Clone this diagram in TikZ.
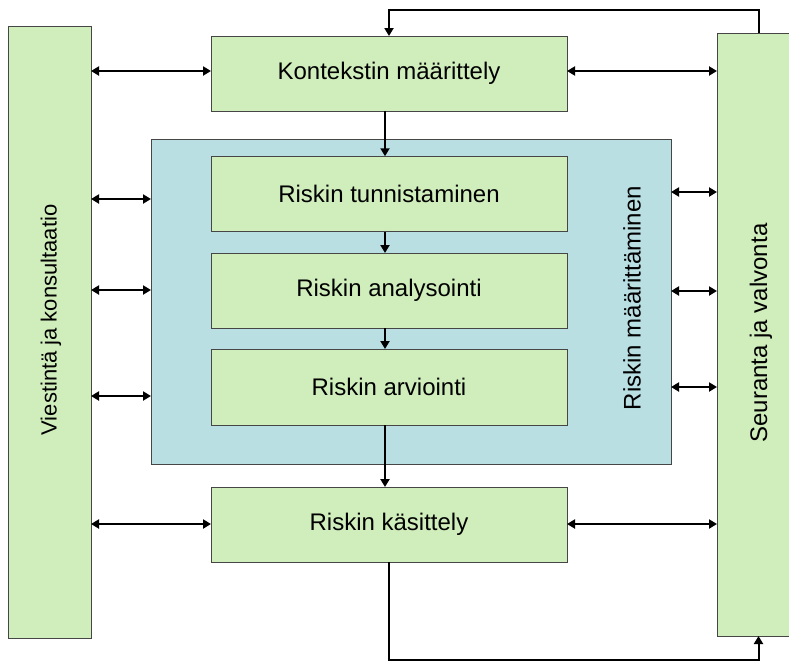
\documentclass[tikz,border=0pt]{standalone}
\usepackage{fontspec}
\setmainfont{Liberation Sans}
\usetikzlibrary{arrows.meta}
\definecolor{boxgreen}{RGB}{208,238,188}
\definecolor{boxblue}{RGB}{185,223,227}
\definecolor{edgegray}{RGB}{70,70,70}
\tikzset{
  greenbox/.style={draw=edgegray, line width=0.9pt, fill=boxgreen, inner sep=0pt, outer sep=0pt},
  bluebox/.style={draw=edgegray, line width=0.9pt, fill=boxblue, inner sep=0pt, outer sep=0pt},
  lbl/.style={font=\fontsize{24}{28}\selectfont, inner sep=0pt},
  conn/.style={line width=2pt, draw=black},
  tip/.style={-{Triangle[length=8pt,width=9pt]}},
  dtip/.style={{Triangle[length=8pt,width=9pt]}-{Triangle[length=8pt,width=9pt]}}
}
\begin{document}
\begin{tikzpicture}[x=1pt,y=-1pt]
\clip (0,0) rectangle (789,662);
\fill[white] (0,0) rectangle (789,662);
% side bars
\node[greenbox, minimum width=83, minimum height=612] (lb) at (49.5,332) {};
\node[greenbox, minimum width=83, minimum height=603] (rb) at (758.5,334.5) {};
\node[lbl, font=\fontsize{22}{26}\selectfont, rotate=90] (lbt) at (51,320) {Viestintä ja konsultaatio};
\node[lbl, rotate=90] (rbt) at (761,333) {Seuranta ja valvonta};
% blue assessment box
\node[bluebox, minimum width=520, minimum height=325] (blue) at (411,301.5) {};
\node[lbl, rotate=90] (bluet) at (632,298) {Riskin määrittäminen};
% process boxes
\node[greenbox, minimum width=356, minimum height=75] (ctx) at (389,73.5) {};
\node[lbl] (ctxt) at (ctx) {Kontekstin määrittely};
\node[greenbox, minimum width=356, minimum height=75.5] (tun) at (389,194) {};
\node[lbl] (tunt) at (tun) {Riskin tunnistaminen};
\node[greenbox, minimum width=356, minimum height=75] (ana) at (389,290.5) {};
\node[lbl] (anat) at (ana) {Riskin analysointi};
\node[greenbox, minimum width=356, minimum height=76] (arv) at (389,387) {};
\node[lbl] (arvt) at (arv) {Riskin arviointi};
\node[greenbox, minimum width=356, minimum height=75] (kas) at (389,524.5) {};
\node[lbl] (kast) at (kas) {Riskin käsittely};
% left double arrows
\draw[conn, dtip] (lb.east |- 0,71) -- (ctx.west |- 0,71);
\draw[conn, dtip] (lb.east |- 0,199) -- (blue.west |- 0,199);
\draw[conn, dtip] (lb.east |- 0,290) -- (blue.west |- 0,290);
\draw[conn, dtip] (lb.east |- 0,396) -- (blue.west |- 0,396);
\draw[conn, dtip] (lb.east |- 0,524) -- (kas.west |- 0,524);
% right double arrows
\draw[conn, dtip] (ctx.east |- 0,71) -- (rb.west |- 0,71);
\draw[conn, dtip] (blue.east |- 0,192) -- (rb.west |- 0,192);
\draw[conn, dtip] (blue.east |- 0,291) -- (rb.west |- 0,291);
\draw[conn, dtip] (blue.east |- 0,387) -- (rb.west |- 0,387);
\draw[conn, dtip] (kas.east |- 0,524) -- (rb.west |- 0,524);
% vertical flow arrows
\draw[conn, tip] (ctx.south -| 385,0) -- (tun.north -| 385,0);
\draw[conn, tip] (tun.south -| 385,0) -- (ana.north -| 385,0);
\draw[conn, tip] (ana.south -| 385,0) -- (arv.north -| 385,0);
\draw[conn, tip] (arv.south -| 385,0) -- (kas.north -| 385,0);
% feedback loops
\draw[conn, tip] (rb.north) -- (758.5,9.5) -- (389,9.5) -- (ctx.north);
\draw[conn, tip] (kas.south) -- (389,660) -- (758.5,660) -- (rb.south);
\end{tikzpicture}
\end{document}
